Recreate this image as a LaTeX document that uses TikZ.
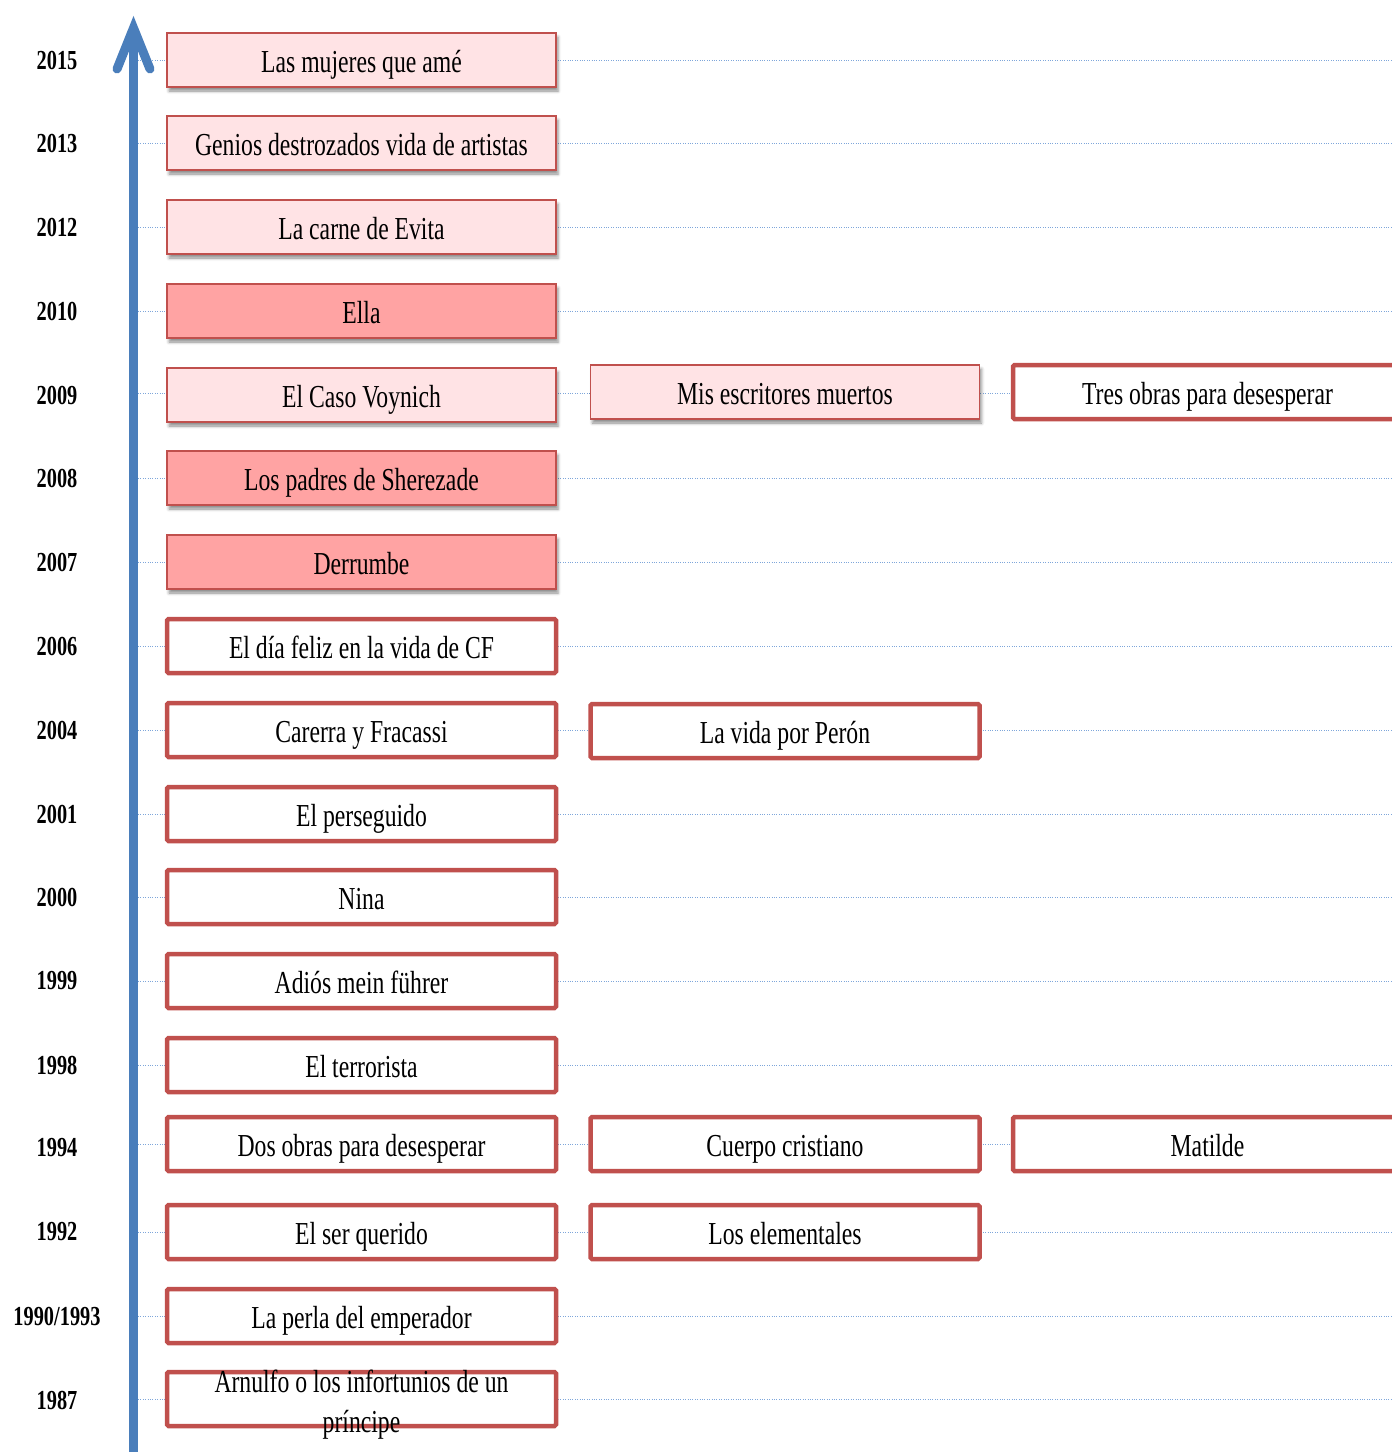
\documentclass[tikz,border=0pt]{standalone}
\usepackage{fontspec}
\setmainfont{Liberation Serif}
\newfontfamily\condfont[FakeStretch=0.74]{Liberation Serif}
\usetikzlibrary{shadows.blur}
\definecolor{axisblue}{HTML}{4A7EBB}
\definecolor{guideblue}{HTML}{7EA6DA}
\definecolor{boxred}{HTML}{C0504D}
\definecolor{palepink}{HTML}{FFE3E5}
\definecolor{salmon}{HTML}{FFA3A3}
\begin{document}
\begin{tikzpicture}[x=1pt,y=-1pt,
  yearlabel/.style={font=\condfont\bfseries\fontsize{27.5}{30}\selectfont, anchor=center, inner sep=0pt},
  basebox/.style={minimum width=389pt, minimum height=54pt, inner sep=0pt, anchor=center,
    text height=30pt, text depth=6pt,
    font=\condfont\fontsize{32}{40}\selectfont, text=black},
  softbox/.style={basebox, draw=boxred, line width=1.6pt,
    blur shadow={shadow xshift=2pt, shadow yshift=-4pt, shadow blur radius=3pt, shadow opacity=45}},
  pinkbox/.style={softbox, fill=palepink},
  salmonbox/.style={softbox, fill=salmon},
  thickbox/.style={basebox, draw=boxred, line width=4.5pt, fill=white, rounded corners=1.5pt},
  guide/.style={guideblue, line width=0.9pt, dash pattern=on 1pt off 1.4pt},
  axis/.style={axisblue, line width=9pt}
]
\useasboundingbox (0,0) rectangle (1392,1452);
\clip (0,0) rectangle (1392,1452);

% guide lines (behind boxes)
\foreach \n/\y in {a/60,b/143,c/227,d/311,e/393,f/478,g/562,h/646,i/730,j/814,k/897,l/981,m/1065,n/1144,o/1232,p/1316,q/1399}{
  \coordinate (gl\n) at (138,\y);
  \coordinate (gr\n) at (1392,\y);
  \draw[guide] (gl\n) -- (gr\n);
}

% axis arrow
\coordinate (axbot) at (133.5,1460);
\coordinate (axtop) at (133.5,40);
\coordinate (tip) at (133.5,28);
\coordinate (barbL) at (117,69);
\coordinate (barbR) at (150,69);
\draw[axis] (axbot) -- (axtop);
\draw[axis, line cap=round, line join=miter, miter limit=10] (barbL) -- (tip) -- (barbR);

% year labels
\node[yearlabel] (y2015) at (57,60) {2015};
\node[yearlabel] (y2013) at (57,143) {2013};
\node[yearlabel] (y2012) at (57,227) {2012};
\node[yearlabel] (y2010) at (57,311) {2010};
\node[yearlabel] (y2009) at (57,395) {2009};
\node[yearlabel] (y2008) at (57,478) {2008};
\node[yearlabel] (y2007) at (57,562) {2007};
\node[yearlabel] (y2006) at (57,646) {2006};
\node[yearlabel] (y2004) at (57,730) {2004};
\node[yearlabel] (y2001) at (57,814) {2001};
\node[yearlabel] (y2000) at (57,897) {2000};
\node[yearlabel] (y1999) at (57,981) {1999};
\node[yearlabel] (y1998) at (57,1065) {1998};
\node[yearlabel] (y1994) at (57,1148) {1994};
\node[yearlabel] (y1992) at (57,1232) {1992};
\node[yearlabel] (y1990) at (57,1316) {1990/1993};
\node[yearlabel] (y1987) at (57,1400) {1987};

% column 1
\node[pinkbox] (b2015) at (361.5,60) {Las mujeres que amé};
\node[pinkbox] (b2013) at (361.5,143) {Genios destrozados vida de artistas};
\node[pinkbox] (b2012) at (361.5,227) {La carne de Evita};
\node[salmonbox] (b2010) at (361.5,311) {Ella};
\node[pinkbox] (b2009) at (361.5,395) {El Caso Voynich};
\node[salmonbox] (b2008) at (361.5,478) {Los padres de Sherezade};
\node[salmonbox] (b2007) at (361.5,562) {Derrumbe};
\node[thickbox] (b2006) at (361.5,646) {El día feliz en la vida de CF};
\node[thickbox] (b2004) at (361.5,730) {Carerra y Fracassi};
\node[thickbox] (b2001) at (361.5,814) {El perseguido};
\node[thickbox] (b2000) at (361.5,897) {Nina};
\node[thickbox] (b1999) at (361.5,981) {Adiós mein führer};
\node[thickbox] (b1998) at (361.5,1065) {El terrorista};
\node[thickbox] (b1994) at (361.5,1144) {Dos obras para desesperar};
\node[thickbox] (b1992) at (361.5,1232) {El ser querido};
\node[thickbox] (b1990) at (361.5,1316) {La perla del emperador};
\node[thickbox, text height=0pt, text depth=0pt] (b1987) at (361.5,1399) {};
\node[font=\condfont\fontsize{32}{40}\selectfont, align=center, inner sep=0pt] (t1987) at (361.5,1405) {Arnulfo o los infortunios de un\\príncipe};

% column 2
\node[pinkbox] (c2009) at (785,392) {Mis escritores muertos};
\node[thickbox] (c2004) at (785,731) {La vida por Perón};
\node[thickbox] (c1994) at (785,1144) {Cuerpo cristiano};
\node[thickbox] (c1992) at (785,1232) {Los elementales};

% column 3
\node[thickbox] (d2009) at (1207.5,392) {Tres obras para desesperar};
\node[thickbox] (d1994) at (1207.5,1144) {Matilde};
\end{tikzpicture}
\end{document}
